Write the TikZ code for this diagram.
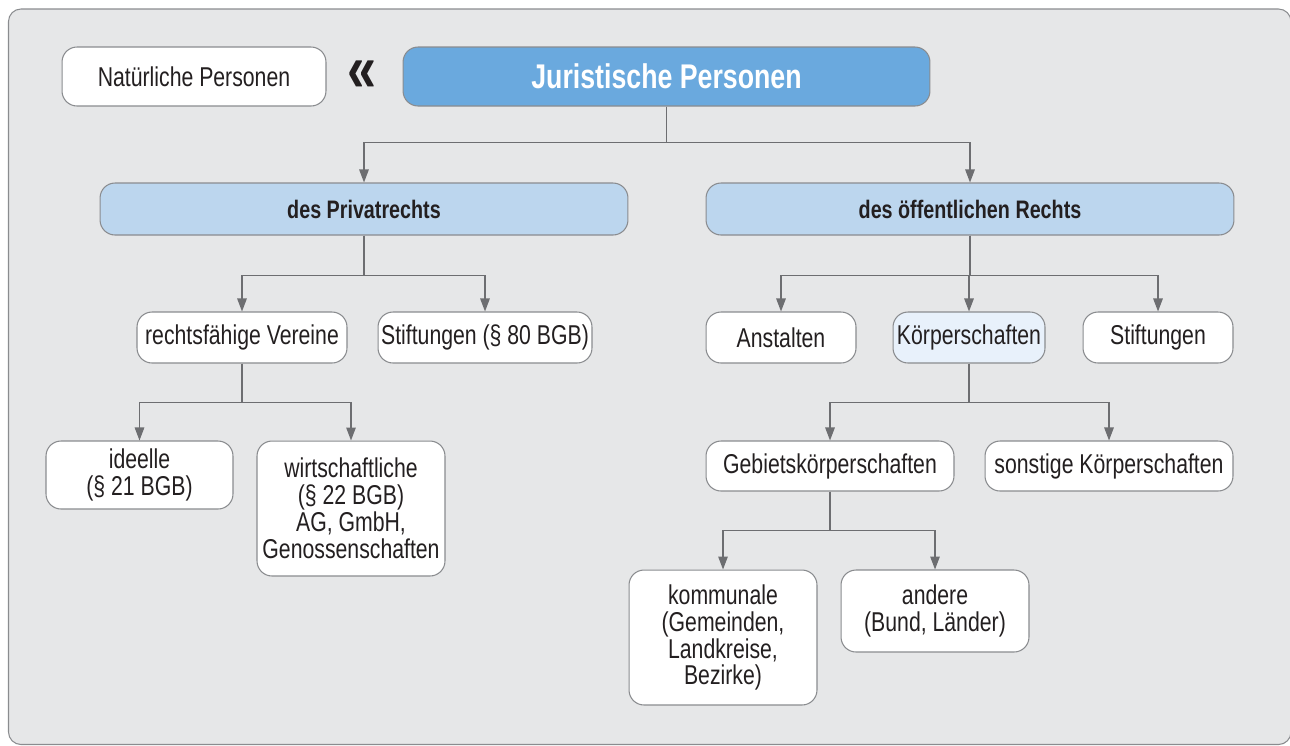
\documentclass[tikz,border=0pt]{standalone}
\usepackage{fontspec}
\setmainfont[FakeStretch=0.78]{Liberation Sans}
\usetikzlibrary{arrows.meta}
\definecolor{panelgray}{HTML}{E6E7E8}
\definecolor{boxline}{HTML}{8A8C8F}
\definecolor{linkgray}{HTML}{6D6E71}
\definecolor{jurblue}{HTML}{6AA9DE}
\definecolor{lightblue}{HTML}{BCD6EE}
\definecolor{paleblue}{HTML}{E8F1FB}
\definecolor{inkblack}{HTML}{231F20}
\tikzstyle{frame}=[draw=boxline,fill=panelgray,line width=0.6pt,rounded corners=0.25cm]
\tikzstyle{entity}=[draw=boxline,fill=white,line width=0.6pt,rounded corners=0.3cm,align=center,inner sep=0pt,text=inkblack,font=\fontsize{15.5}{15.3}\selectfont]
\tikzstyle{headbox}=[entity,fill=jurblue,text=white,font=\fontsize{19.5}{20}\selectfont\bfseries]
\tikzstyle{kindbox}=[entity,fill=lightblue,font=\fontsize{14.4}{15}\selectfont\bfseries]
\tikzstyle{branchline}=[draw=linkgray,line width=0.75pt,-{Triangle[length=0.26cm,width=0.19cm]},color=linkgray]
\newcommand{\branch}[3]{
  \draw[branchline] (#1.south) -- ++(0,#2) -| (#3.north);
}

\begin{document}
\begin{tikzpicture}[x=0.02cm,y=-0.02cm]
  \useasboundingbox (0,0) rectangle (1290,745);
  \draw[frame] (8.5,9) rectangle (1291,744.5);
  % top row
  \node[entity,minimum width=5.28cm,minimum height=1.18cm] (nat) at (194,76.5) {Natürliche Personen};
  \node[text=inkblack,font=\fontsize{38}{38}\selectfont\bfseries] (guil) at (362,76) {«};
  \node[headbox,minimum width=10.54cm,minimum height=1.18cm] (jur) at (666.5,76.5) {Juristische Personen};
  % private / public law
  \node[kindbox,minimum width=10.56cm,minimum height=1.04cm] (priv) at (364,209) {des Privatrechts};
  \node[kindbox,minimum width=10.56cm,minimum height=1.04cm] (oeff) at (970,209) {des öffentlichen Rechts};
  % private law
  \node[entity,minimum width=4.2cm,minimum height=1.02cm] (verein) at (242,337.5) {rechtsfähige Vereine};
  \node[entity,minimum width=4.28cm,minimum height=1.02cm] (stiftpriv) at (485,337.5) {Stiftungen (§ 80 BGB)};
  \node[entity,minimum width=3.74cm,minimum height=1.36cm] (ideell) at (139.5,475) {ideelle\\(§ 21 BGB)};
  \node[entity,minimum width=3.76cm,minimum height=2.7cm] (wirt) at (351,508.5) {wirtschaftliche\\(§ 22 BGB)\\AG, GmbH,\\Genossenschaften};
  % public law
  \node[entity,minimum width=3.0cm,minimum height=1.02cm] (anst) at (781,337.5) {Anstalten};
  \node[entity,fill=paleblue,minimum width=3.04cm,minimum height=1.02cm] (koerp) at (969,337.5) {Körperschaften};
  \node[entity,minimum width=3.0cm,minimum height=1.02cm] (stiftoeff) at (1158,337.5) {Stiftungen};
  \node[entity,minimum width=4.96cm,minimum height=1.0cm] (gebiet) at (830,466) {Gebietskörperschaften};
  \node[entity,minimum width=4.96cm,minimum height=1.0cm] (sonst) at (1109,466) {sonstige Körperschaften};
  \node[entity,minimum width=3.76cm,minimum height=2.7cm] (komm) at (723,637.5) {kommunale\\(Gemeinden,\\Landkreise,\\Bezirke)};
  \node[entity,minimum width=3.76cm,minimum height=1.64cm] (andere) at (935,611) {andere\\(Bund, Länder)};
  % connectors
  \branch{jur}{36}{priv}
  \branch{jur}{36}{oeff}
  \branch{priv}{40}{verein}
  \branch{priv}{40}{stiftpriv}
  \branch{verein}{39}{ideell}
  \branch{verein}{39}{wirt}
  \branch{oeff}{40}{anst}
  \branch{oeff}{40}{koerp}
  \branch{oeff}{40}{stiftoeff}
  \branch{koerp}{39}{gebiet}
  \branch{koerp}{39}{sonst}
  \branch{gebiet}{39}{komm}
  \branch{gebiet}{39}{andere}
\end{tikzpicture}
\end{document}
